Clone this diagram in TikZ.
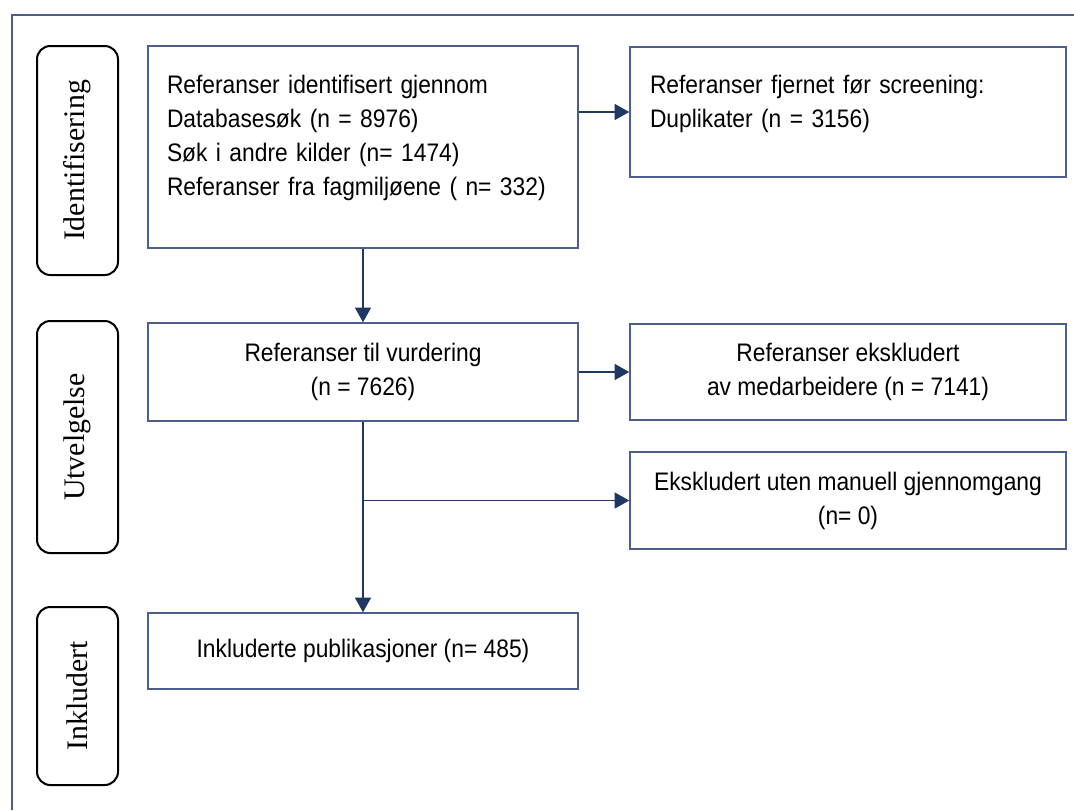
\documentclass[tikz,border=0pt]{standalone}
\usepackage{fontspec}
\setmainfont{Liberation Sans}
\newfontfamily\boxfont[FakeStretch=0.9]{Liberation Sans}
\newfontfamily\phasefont{Liberation Serif}
\usetikzlibrary{arrows.meta}
\definecolor{frameBlue}{HTML}{4B5E8E}
\definecolor{arrowNavy}{HTML}{1F3763}

\begin{document}
\begin{tikzpicture}[
  x=0.75pt, y=-0.75pt,
  >={Triangle[length=11pt,width=12pt]},
  flowbox/.style={draw=frameBlue, line width=1.1pt, inner sep=0pt,
    font=\boxfont\fontsize{19}{25.5}\selectfont},
  phase/.style={draw=black, line width=1.5pt, rounded corners=10pt,
    rotate=90, minimum height=60.75pt, inner sep=0pt,
    font=\phasefont\fontsize{22.4}{26}\selectfont},
  flow/.style={->, draw=arrowNavy, line width=1.1pt}
]
  \useasboundingbox (0,0) rectangle (1074,810);

  % Outer frame (only top and left edges are visible)
  \draw[frameBlue, line width=1.4pt] (12,810) -- (12,15) -- (1074,15);

  % Phase labels
  \node[phase, minimum width=171.75pt] (pIdent) at (77.5,160.5) {Identifisering};
  \node[phase, minimum width=174pt] (pScreen) at (77.5,437) {Utvelgelse};
  \node[phase, minimum width=133.5pt] (pIncl) at (77.5,696) {Inkludert};

  % Main column
  \node[flowbox, minimum width=322.5pt, minimum height=151.5pt,
    text width=294pt, text depth=94pt, align=left] (ident) at (363,147)
    {Referanser identifisert gjennom\\
     Databasesøk (n = 8976)\\
     Søk i andre kilder (n= 1474)\\
     Referanser fra fagmiljøene ( n= 332)};
  \node[flowbox, minimum width=322.5pt, minimum height=73.5pt,
    align=center] (screen) at (363,372)
    {Referanser til vurdering\\(n = 7626)};
  \node[flowbox, minimum width=322.5pt, minimum height=57pt,
    align=center] (incl) at (363,651)
    {Inkluderte publikasjoner (n= 485)};

  % Side column
  \node[flowbox, minimum width=327pt, minimum height=97.5pt,
    text width=297pt, text depth=41.5pt, align=left] (dupl) at (848,112)
    {Referanser fjernet før screening:\\Duplikater (n = 3156)};
  \node[flowbox, minimum width=327pt, minimum height=72pt,
    align=center] (excl) at (848,372)
    {Referanser ekskludert\\av medarbeidere (n = 7141)};
  \node[flowbox, minimum width=327pt, minimum height=72.75pt,
    align=center] (exclAuto) at (848,500.5)
    {Ekskludert uten manuell gjennomgang\\(n= 0)};

  % Connectors
  \coordinate (split) at (363,500.5);
  \draw[flow] (ident.east |- dupl.west) -- (dupl.west);
  \draw[flow] (ident) -- (screen);
  \draw[flow] (screen) -- (excl);
  \draw[flow] (screen) -- (incl);
  \draw[flow] (split) -- (exclAuto);
\end{tikzpicture}
\end{document}
